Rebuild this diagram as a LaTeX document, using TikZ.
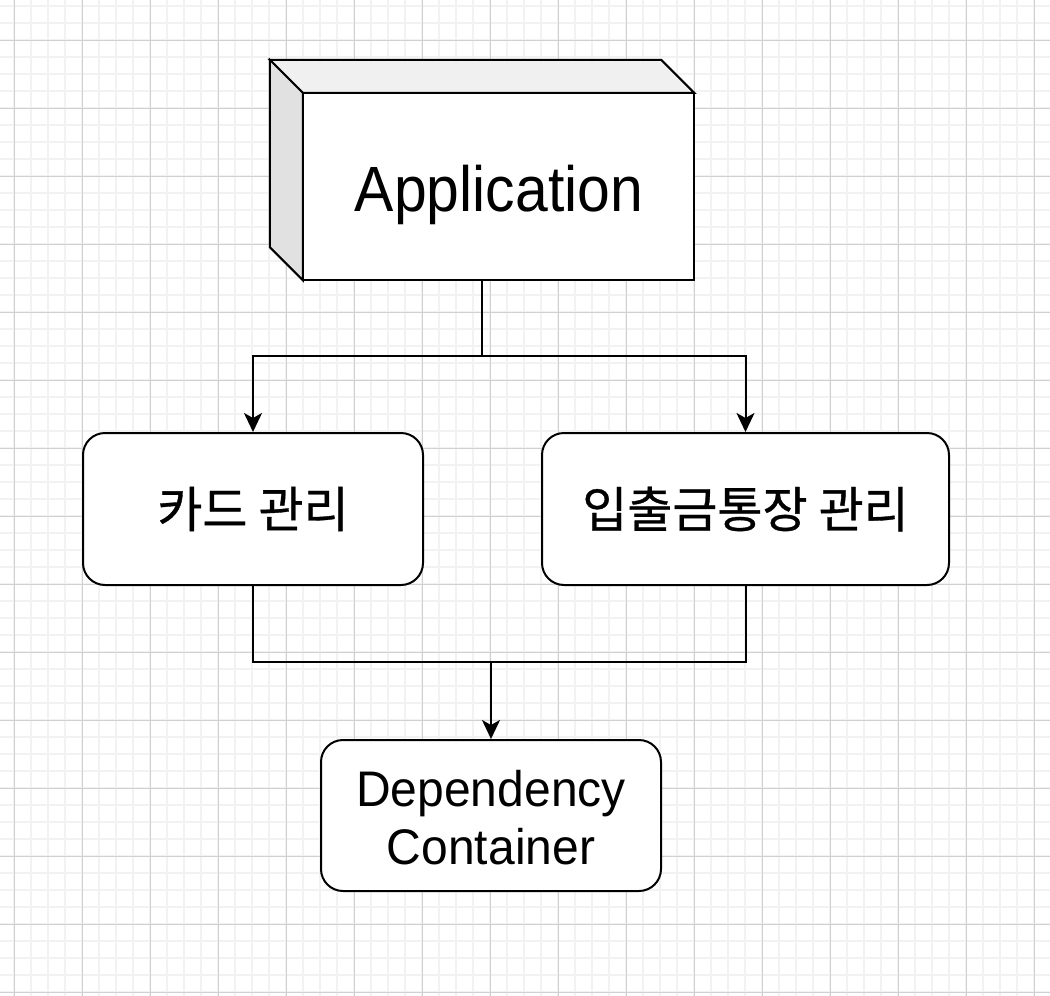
\documentclass[tikz,border=0pt]{standalone}
\usepackage{fontspec}
\setmainfont{Liberation Sans}
\newfontfamily\appfont[FakeStretch=0.92]{Liberation Sans}
\newfontfamily\dcfont[FakeStretch=0.96]{Liberation Sans}
\newfontfamily\krfont[FakeBold=0.7]{Noto Sans CJK KR}
\usetikzlibrary{arrows.meta,calc}
\definecolor{gridmajor}{HTML}{D0D0D0}
\definecolor{gridminor}{HTML}{F2F2F2}
\definecolor{topface}{HTML}{F0F0F0}
\definecolor{sideface}{HTML}{E1E1E1}
\tikzset{
  box/.style={draw=black, line width=2pt, fill=white, rounded corners=22pt, inner sep=0pt},
  conn/.style={draw=black, line width=2pt},
  arrowline/.style={conn, -{Stealth[length=19pt, width=18pt, inset=5pt]}},
  cubeline/.style={draw=black, line width=2pt, line join=miter},
  krtext/.style={font=\krfont\fontsize{49}{58}\selectfont},
  dctext/.style={font=\dcfont\fontsize{50}{58}\selectfont, anchor=base, inner sep=0pt},
}
\begin{document}
\begin{tikzpicture}[x=1pt, y=-1pt]
\useasboundingbox (0,0) rectangle (1050,996);
\fill[white] (0,0) rectangle (1050,996);
% grid
\begin{scope}
\clip (0,0) rectangle (1050,996);
\foreach \gx in {14,31,...,1050} \draw[gridminor, line width=1.6pt] (\gx,0) -- (\gx,996);
\foreach \gy in {6,23,...,996} \draw[gridminor, line width=1.6pt] (0,\gy) -- (1050,\gy);
\foreach \gx in {14,82,...,1050} \draw[gridmajor, line width=1pt] (\gx,0) -- (\gx,996);
\foreach \gy in {40,108,...,996} \draw[gridmajor, line width=1pt] (0,\gy) -- (1050,\gy);
\end{scope}
% application cube
\node[minimum width=424pt, minimum height=220pt, inner sep=0pt] (app) at (482,170) {};
\coordinate (fnw) at ($(app.north west)+(33,33)$);
\filldraw[cubeline, fill=topface] (app.north west) -- ($(app.north east)+(-33,0)$) -- ($(app.north east)+(0,33)$) -- (fnw) -- cycle;
\filldraw[cubeline, fill=sideface] (app.north west) -- (fnw) -- ($(app.south west)+(33,0)$) -- ($(app.south west)+(0,-33)$) -- cycle;
\filldraw[cubeline, fill=white] (fnw) rectangle (app.south east);
\node[font=\appfont\fontsize{64}{70}\selectfont, anchor=base, inner sep=0pt] (apptext) at (499,211.7) {Application};
% boxes
\node[box, minimum width=340pt, minimum height=152pt, krtext] (card) at (253,509) {카드 관리};
\node[box, minimum width=407pt, minimum height=152pt, krtext] (acct) at (745.5,509) {입출금통장 관리};
\node[box, minimum width=340pt, minimum height=151pt] (dc) at (491,815.5) {};
\node[dctext] (dc1) at (491,806.7) {Dependency};
\node[dctext] (dc2) at (491,864) {Container};
% connectors
\coordinate (split) at (482,356);
\coordinate (merge) at (491,662);
\draw[conn] (app.south) -- (split);
\draw[arrowline] (split) -| (card.north);
\draw[arrowline] (split) -| (acct.north);
\draw[conn] (card.south) |- (merge);
\draw[conn] (acct.south) |- (merge);
\draw[arrowline] (merge) -- (dc.north);
\end{tikzpicture}
\end{document}
